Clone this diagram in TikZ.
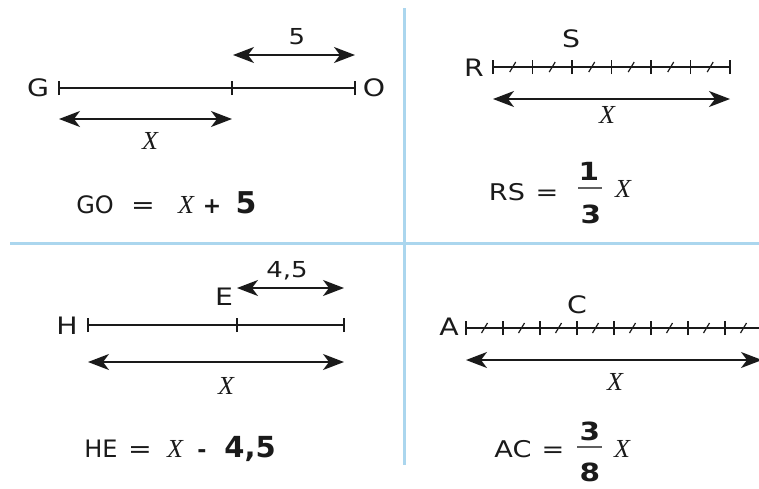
\documentclass[tikz,border=0pt]{standalone}
\usepackage{fontspec}
\setmainfont{DejaVu Sans}
\newfontfamily\widefont{DejaVu Sans}[FakeStretch=1.18]
\newfontfamily\serifx{Liberation Serif}
\usetikzlibrary{arrows.meta,calc}
\definecolor{divblue}{HTML}{ABD6EE}
\definecolor{ink}{HTML}{1A1A1A}
\tikzset{
  seg/.style={draw=ink, line width=1.7pt},
  tickm/.style={draw=ink, line width=1.4pt},
  slash/.style={draw=ink, line width=1.2pt},
  dim/.style={draw=ink, line width=1.7pt, {Stealth[length=21pt,width=16pt,inset=6pt]}-{Stealth[length=21pt,width=16pt,inset=6pt]}},
  divider/.style={draw=divblue, line width=3pt},
  lbl/.style={inner sep=0pt, text=ink, font=\fontsize{24}{26}\widefont},
  numlbl/.style={inner sep=0pt, text=ink, font=\fontsize{22}{24}\widefont},
  xlbl/.style={inner sep=0pt, text=ink, font=\fontsize{26}{28}\serifx\itshape},
  eq/.style={inner sep=0pt, anchor=base, text=ink, font=\fontsize{24}{26}\selectfont},
  weq/.style={inner sep=0pt, anchor=base, text=ink, font=\fontsize{23}{25}\widefont},
  bop/.style={inner sep=0pt, anchor=base, text=ink, font=\fontsize{22}{24}\bfseries},
  bbig/.style={inner sep=0pt, anchor=base, text=ink, font=\fontsize{30}{32}\bfseries},
  bnum/.style={inner sep=0pt, text=ink, font=\fontsize{25}{27}\widefont\bfseries},
  fbar/.style={draw=ink!70, line width=1.2pt}
}
\begin{document}
\begin{tikzpicture}[x=1pt,y=-1pt]
\useasboundingbox (0,0) rectangle (759,488);
% dividers
\coordinate (vt) at (404,8);
\coordinate (vb) at (404,465);
\coordinate (hl) at (10,243);
\coordinate (hr) at (759,243);
\draw[divider] (vt) -- (vb);
\draw[divider] (hl) -- (hr);

% ===== top-left: GO =====
\coordinate (g0) at (59,88);
\coordinate (g1) at (232,88);
\coordinate (g2) at (355,88);
\draw[seg] (g0) -- (g2);
\foreach \p in {g0,g1,g2} \draw[tickm] ([yshift=-7pt]\p) -- ([yshift=7pt]\p);
\node[lbl] (G) at (38,88) {G};
\node[lbl] (O) at (374,88) {O};
\coordinate (f0) at (233,55);
\coordinate (f1) at (355,55);
\draw[dim] (f0) -- (f1);
\node[numlbl] (five) at (297,37) {5};
\coordinate (x0) at (59,119);
\coordinate (x1) at (232,119);
\draw[dim] (x0) -- (x1);
\node[xlbl] (Xa) at (150,141) {X};
\node[eq] (goGO) at (95,213) {GO};
\node[weq, font=\fontsize{24}{26}\widefont] (goEq) at (143,213) {=};
\node[eq, font=\fontsize{26}{28}\serifx\itshape] (goX) at (186,213) {X};
\node[bop] (goPlus) at (212,213) {+};
\node[bbig] (goFive) at (246,213) {5};

% ===== top-right: RS =====
\foreach \k in {0,...,6} \coordinate (r\k) at ({493+39.5*\k},67);
\draw[seg] (r0) -- (r6);
\foreach \k in {0,...,6} \draw[tickm] ([yshift=-7pt]r\k) -- ([yshift=7pt]r\k);
\foreach \k in {0,...,5} \draw[slash] ($(r\k)+(16.7,5)$) -- ($(r\k)+(22.7,-5)$);
\node[lbl] (R) at (474,68) {R};
\node[lbl] (S) at (571,39) {S};
\coordinate (rx0) at (493,99);
\coordinate (rx1) at (730,99);
\draw[dim] (rx0) -- (rx1);
\node[xlbl] (Xb) at (607,115) {X};
\node[weq] (rsRS) at (507,200) {RS};
\node[weq] (rsEq) at (547,200) {=};
\node[bnum] (n1) at (589,171) {1};
\coordinate (b0) at (578,188);
\coordinate (b1) at (602,188);
\draw[fbar] (b0) -- (b1);
\node[bnum] (d3) at (591,214) {3};
\node[xlbl, anchor=base] (Xc) at (623,197) {X};

% ===== bottom-left: HE =====
\coordinate (h0) at (88,325);
\coordinate (h1) at (237,325);
\coordinate (h2) at (344,325);
\draw[seg] (h0) -- (h2);
\foreach \p in {h0,h1,h2} \draw[tickm] ([yshift=-7pt]\p) -- ([yshift=7pt]\p);
\node[lbl] (H) at (67,326) {H};
\node[lbl] (E) at (224,297) {E};
\coordinate (e0) at (237,288);
\coordinate (e1) at (344,288);
\draw[dim] (e0) -- (e1);
\node[numlbl] (fourfive) at (287,271) {4,5};
\coordinate (hx0) at (88,362);
\coordinate (hx1) at (344,362);
\draw[dim] (hx0) -- (hx1);
\node[xlbl] (Xd) at (226,386) {X};
\node[eq] (heHE) at (101,457) {HE};
\node[weq, font=\fontsize{24}{26}\widefont] (heEq) at (140,457) {=};
\node[eq, font=\fontsize{26}{28}\serifx\itshape] (heX) at (175,457) {X};
\node[bop] (heMinus) at (202,457) {-};
\node[bbig, font=\fontsize{29}{31}\bfseries] (heNum) at (250,457) {4,5};

% ===== bottom-right: AC =====
\foreach \k in {0,...,8} \coordinate (a\k) at ({466+37*\k},328);
\draw[seg] (a0) -- (a8);
\foreach \k in {0,...,8} \draw[tickm] ([yshift=-7pt]a\k) -- ([yshift=7pt]a\k);
\foreach \k in {0,...,7} \draw[slash] ($(a\k)+(15.5,5)$) -- ($(a\k)+(21.5,-5)$);
\node[lbl] (A) at (449,327) {A};
\node[lbl] (C) at (577,305) {C};
\coordinate (ax0) at (466,360);
\coordinate (ax1) at (762,360);
\draw[dim] (ax0) -- (ax1);
\node[xlbl] (Xe) at (615,382) {X};
\node[weq] (acAC) at (513,457) {AC};
\node[weq] (acEq) at (553,457) {=};
\node[bnum] (n3) at (590,431) {3};
\coordinate (c0) at (577,447);
\coordinate (c1) at (602,447);
\draw[fbar] (c0) -- (c1);
\node[bnum] (d8) at (590,472) {8};
\node[xlbl, anchor=base] (Xf) at (622,457) {X};
\end{tikzpicture}
\end{document}
